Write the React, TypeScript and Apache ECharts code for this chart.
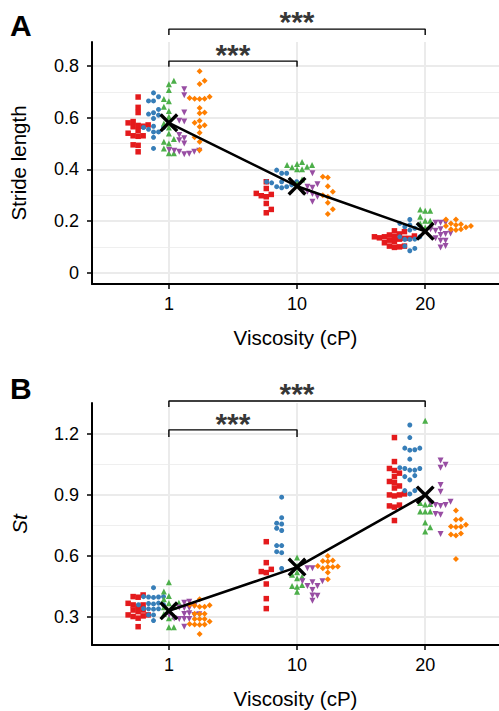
import React, { useEffect, useRef } from "react";
import * as echarts from "echarts";

const categories = ["1", "10", "20"];
const groupColors = ["#E41A1C", "#377EB8", "#4DAF4A", "#984EA3", "#FF7F00"];
const groupSymbols = ["rect", "circle", "triangle", "path://M0,0L10,0L5,8.7Z", "diamond"];
const groupSizes = [5.5, 5, 6, 6, 6];
const dodge = [-0.24, -0.12, 0, 0.12, 0.24];

// Panel A: stride length, per viscosity category
const strideRed = [
  [0.68, 0.64, 0.62, 0.58, 0.585, 0.565, 0.567, 0.57, 0.572, 0.55, 0.54, 0.53, 0.528, 0.53, 0.495, 0.493, 0.468],
  [0.352, 0.326, 0.294, 0.303, 0.307, 0.298, 0.268, 0.245, 0.232],
  [0.162, 0.159, 0.15, 0.146, 0.142, 0.139, 0.135, 0.133, 0.133, 0.139, 0.12, 0.116, 0.126, 0.13, 0.103, 0.098, 0.103, 0.1, 0.14],
];
const strideBlue = [
  [0.696, 0.665, 0.665, 0.681, 0.61, 0.614, 0.619, 0.632, 0.597, 0.555, 0.562, 0.567, 0.562, 0.545, 0.545, 0.524, 0.481],
  [0.385, 0.385, 0.397, 0.352, 0.352, 0.348, 0.352, 0.333, 0.329, 0.333, 0.34],
  [0.206, 0.191, 0.185, 0.178, 0.172, 0.165, 0.139, 0.139, 0.129, 0.13, 0.129, 0.103, 0.094, 0.085],
];
const strideGreen = [
  [0.743, 0.729, 0.707, 0.664, 0.672, 0.642, 0.626, 0.604, 0.584, 0.578, 0.562, 0.539, 0.518, 0.5, 0.507, 0.481, 0.462, 0.462],
  [0.417, 0.408, 0.429, 0.421, 0.417, 0.41, 0.4, 0.4, 0.361, 0.345],
  [0.24, 0.24, 0.245, 0.217, 0.201, 0.201, 0.19, 0.18, 0.175],
];
const stridePurple = [
  [0.71, 0.687, 0.62, 0.585, 0.588, 0.533, 0.52, 0.513, 0.5, 0.475, 0.472, 0.468, 0.46, 0.468, 0.459, 0.472],
  [0.385, 0.342, 0.329, 0.333, 0.313, 0.313, 0.305, 0.294, 0.275],
  [0.193, 0.193, 0.193, 0.168, 0.168, 0.162, 0.146, 0.152, 0.15, 0.133, 0.124, 0.124, 0.103, 0.098],
];
const strideOrange = [
  [0.78, 0.743, 0.73, 0.673, 0.676, 0.673, 0.681, 0.672, 0.638, 0.617, 0.62, 0.588, 0.58, 0.571, 0.565, 0.542, 0.524, 0.507, 0.475],
  [0.369, 0.371, 0.335, 0.313, 0.3, 0.294, 0.271, 0.246, 0.227],
  [0.206, 0.206, 0.181, 0.185, 0.176, 0.188, 0.181, 0.168, 0.165, 0.168, 0.19],
];
const strideMeans = [0.58, 0.335, 0.16];

// Panel B: St, per viscosity category
const stRed = [
  [0.408, 0.4, 0.397, 0.367, 0.359, 0.351, 0.359, 0.334, 0.334, 0.326, 0.305, 0.31, 0.294, 0.31, 0.302, 0.252],
  [0.67, 0.567, 0.523, 0.518, 0.534, 0.462, 0.39, 0.341],
  [1.182, 1.064, 1.03, 1.02, 1.007, 0.99, 0.966, 0.961, 0.944, 0.934, 0.905, 0.9, 0.895, 0.9, 0.85, 0.846, 0.84, 0.774],
];
const stBlue = [
  [0.444, 0.4, 0.398, 0.398, 0.4, 0.396, 0.366, 0.36, 0.364, 0.36, 0.368, 0.34, 0.338, 0.341, 0.34, 0.31, 0.31, 0.282],
  [0.889, 0.788, 0.757, 0.761, 0.725, 0.736, 0.651, 0.651, 0.616, 0.621, 0.538],
  [1.244, 1.182, 1.13, 1.12, 1.13, 1.122, 1.076, 1.03, 1.03, 1.022, 1.034, 1.022, 0.99, 0.995, 0.974, 0.921, 0.921, 0.905],
];
const stGreen = [
  [0.471, 0.425, 0.403, 0.387, 0.37, 0.367, 0.348, 0.35, 0.326, 0.315, 0.302, 0.294, 0.249, 0.249],
  [0.592, 0.55, 0.507, 0.49, 0.498, 0.452, 0.449, 0.457, 0.424, 0.52],
  [1.265, 0.86, 0.853, 0.855, 0.818, 0.818, 0.818, 0.764, 0.741, 0.72],
];
const stPurple = [
  [0.375, 0.37, 0.354, 0.346, 0.344, 0.344, 0.318, 0.315, 0.313, 0.31, 0.31, 0.29, 0.29, 0.292, 0.29, 0.252],
  [0.54, 0.54, 0.47, 0.475, 0.475, 0.452, 0.452, 0.433, 0.406, 0.404, 0.38],
  [1.069, 1.048, 1.034, 0.949, 0.916, 0.867, 0.86, 0.851, 0.845, 0.851, 0.802, 0.806, 0.708],
];
const stOrange = [
  [0.387, 0.35, 0.36, 0.357, 0.35, 0.356, 0.316, 0.315, 0.316, 0.29, 0.29, 0.29, 0.277, 0.263, 0.262, 0.265, 0.263, 0.216],
  [0.6, 0.572, 0.575, 0.578, 0.546, 0.55, 0.548, 0.546, 0.54, 0.518, 0.485],
  [0.823, 0.78, 0.778, 0.753, 0.745, 0.743, 0.742, 0.705, 0.7, 0.71, 0.585],
];
const stMeans = [0.33, 0.545, 0.9];

// Axis ticks
const strideTicks = [0, 0.2, 0.4, 0.6, 0.8];
const strideMinor = [0.1, 0.3, 0.5, 0.7];
const stTicks = [0.3, 0.6, 0.9, 1.2];
const stMinor = [0.45, 0.75, 1.05];

// Significance brackets: [from category, to category, y level, drop level, star level]
const strideBrackets = [
  [1, 3, 0.943, 0.92, 0.972],
  [1, 2, 0.819, 0.797, 0.845],
];
const stBrackets = [
  [1, 3, 1.362, 1.332, 1.398],
  [1, 2, 1.22, 1.185, 1.252],
];

const FONT = "Liberation Sans, Arial, Helvetica, sans-serif";
const X_MIN = 0.4;
const X_MAX = 3.576;
const GRID_LEFT = 92;
const GRID_H = 242;
const PANEL_TOPS = [42, 403];
const Y_RANGES: [number, number][] = [
  [-0.0437, 0.893],
  [0.162, 1.352],
];

const X_SYMBOL =
  "path://M0,12.7L12.7,0L50,37.3L87.3,0L100,12.7L62.7,50L100,87.3L87.3,100L50,62.7L12.7,100L0,87.3L37.3,50Z";

function swarmColumns(values: number[], pxPerY: number, minDy: number): number[] {
  const order = values.map((_, i) => i).sort((a, b) => values[a] - values[b]);
  const placed: { col: number; y: number }[] = [];
  const cols = new Array(values.length).fill(0);
  order.forEach((i, n) => {
    const y = values[i] * pxPerY;
    for (let k = 0; k < 60; k++) {
      const cands = k === 0 ? [0] : n % 2 === 0 ? [-k, k] : [k, -k];
      let found: number | null = null;
      for (const c of cands) {
        if (!placed.some((p) => p.col === c && Math.abs(p.y - y) < minDy)) {
          found = c;
          break;
        }
      }
      if (found !== null) {
        cols[i] = found;
        placed.push({ col: found, y });
        break;
      }
    }
  });
  return cols;
}

export default function App() {
  const ref = useRef<HTMLDivElement>(null);

  useEffect(() => {
    if (!ref.current) return;
    const chart = echarts.init(ref.current, null, { renderer: "svg" });
    const width = 499;
    const pxPerX = (width - GRID_LEFT) / (X_MAX - X_MIN);
    const colPx = 5;

    const panels = [
      { groups: [strideRed, strideBlue, strideGreen, stridePurple, strideOrange], means: strideMeans, brackets: strideBrackets },
      { groups: [stRed, stBlue, stGreen, stPurple, stOrange], means: stMeans, brackets: stBrackets },
    ];

    const series: any[] = [];
    panels.forEach((panel, p) => {
      const [ymin, ymax] = Y_RANGES[p];
      const pxPerY = GRID_H / (ymax - ymin);
      const yIdx = p * 2;
      panel.groups.forEach((group, g) => {
        const data: number[][] = [];
        group.forEach((vals, c) => {
          const cols = swarmColumns(vals, pxPerY, 5);
          vals.forEach((v, i) => {
            data.push([c + 1 + dodge[g] + (cols[i] * colPx) / pxPerX, v]);
          });
        });
        series.push({
          type: "scatter",
          xAxisIndex: p,
          yAxisIndex: yIdx,
          data,
          symbol: groupSymbols[g],
          symbolSize: groupSizes[g],
          itemStyle: { color: groupColors[g], opacity: 1 },
          z: 2,
          silent: true,
        });
      });
      series.push({
        type: "line",
        xAxisIndex: p,
        yAxisIndex: yIdx,
        data: panel.means.map((m, c) => [c + 1, m]),
        symbol: X_SYMBOL,
        symbolSize: 19,
        showAllSymbol: true,
        itemStyle: { color: "#000" },
        lineStyle: { color: "#000", width: 2.6 },
        z: 5,
        silent: true,
      });
      panel.brackets.forEach((b) => {
        const [from, to, level, drop] = b;
        series.push({
          type: "line",
          xAxisIndex: p,
          yAxisIndex: yIdx,
          data: [
            [from, drop],
            [from, level],
            [to, level],
            [to, drop],
          ],
          symbol: "none",
          clip: false,
          lineStyle: { color: "#000", width: 1.4 },
          z: 6,
          silent: true,
        });
      });
      series.push({
        type: "scatter",
        xAxisIndex: p,
        yAxisIndex: yIdx,
        data: panel.brackets.map((b) => [(b[0] + b[1]) / 2, b[4]]),
        symbolSize: 1,
        itemStyle: { color: "rgba(0,0,0,0)" },
        clip: false,
        label: {
          show: true,
          position: "inside",
          formatter: "***",
          color: "#000",
          fontSize: 30,
          fontWeight: "bold",
          fontFamily: FONT,
        },
        z: 6,
        silent: true,
      });
    });

    const xAxis = [0, 1].map((p) => ({
      type: "value",
      gridIndex: p,
      min: X_MIN,
      max: X_MAX,
      axisLine: { show: true, onZero: false, lineStyle: { color: "#000", width: 2 } },
      axisTick: { show: true, customValues: [1, 2, 3], length: 5, lineStyle: { color: "#000", width: 1.5 } },
      axisLabel: {
        customValues: [1, 2, 3],
        formatter: (v: number) => categories[Math.round(v) - 1],
        color: "#000",
        fontSize: 18,
        fontFamily: FONT,
        margin: 11,
      },
      splitLine: { show: true, lineStyle: { color: "#EBEBEB", width: 2 } },
      name: "Viscosity (cP)",
      nameLocation: "middle",
      nameGap: 43,
      nameTextStyle: { fontSize: 20.5, color: "#000", fontFamily: FONT },
    }));

    const yConf = [
      { ticks: strideTicks, minor: strideMinor, name: "Stride length", italic: false },
      { ticks: stTicks, minor: stMinor, name: "St", italic: true },
    ];
    const yAxis: any[] = [];
    yConf.forEach((c, p) => {
      const [ymin, ymax] = Y_RANGES[p];
      yAxis.push({
        type: "value",
        gridIndex: p,
        min: ymin,
        max: ymax,
        position: "left",
        axisLine: { show: true, onZero: false, lineStyle: { color: "#000", width: 2 } },
        axisTick: { show: true, customValues: c.ticks, length: 5, lineStyle: { color: "#000", width: 1.5 } },
        axisLabel: {
          customValues: c.ticks,
          formatter: (v: number) => String(Math.round(v * 10) / 10),
          color: "#000",
          fontSize: 18,
          fontFamily: FONT,
          margin: 13,
        },
        splitLine: { show: true, lineStyle: { color: "#EBEBEB", width: 2 } },
        name: c.name,
        nameLocation: "middle",
        nameGap: 63,
        nameTextStyle: {
          fontSize: 20.5,
          color: "#000",
          fontFamily: FONT,
          fontStyle: c.italic ? "italic" : "normal",
        },
      });
      yAxis.push({
        type: "value",
        gridIndex: p,
        min: ymin,
        max: ymax,
        position: "left",
        axisLine: { show: false },
        axisTick: { show: false, customValues: c.minor },
        axisLabel: { show: false, customValues: c.minor },
        splitLine: { show: true, lineStyle: { color: "#EFEFEF", width: 1.2 } },
      });
    });

    chart.setOption({
      animation: false,
      backgroundColor: "#fff",
      grid: PANEL_TOPS.map((t) => ({ left: GRID_LEFT, right: 0, top: t, height: GRID_H })),
      xAxis,
      yAxis,
      series,
      graphic: [
        { type: "text", left: 10, top: 10, style: { text: "A", font: `bold 30px ${FONT}`, fill: "#000" } },
        { type: "text", left: 10, top: 373, style: { text: "B", font: `bold 30px ${FONT}`, fill: "#000" } },
      ],
    });

    return () => chart.dispose();
  }, []);

  return (
    <div
      ref={ref}
      style={{ position: "fixed", left: 0, top: 0, width: 499, height: 711, background: "#fff" }}
    />
  );
}
